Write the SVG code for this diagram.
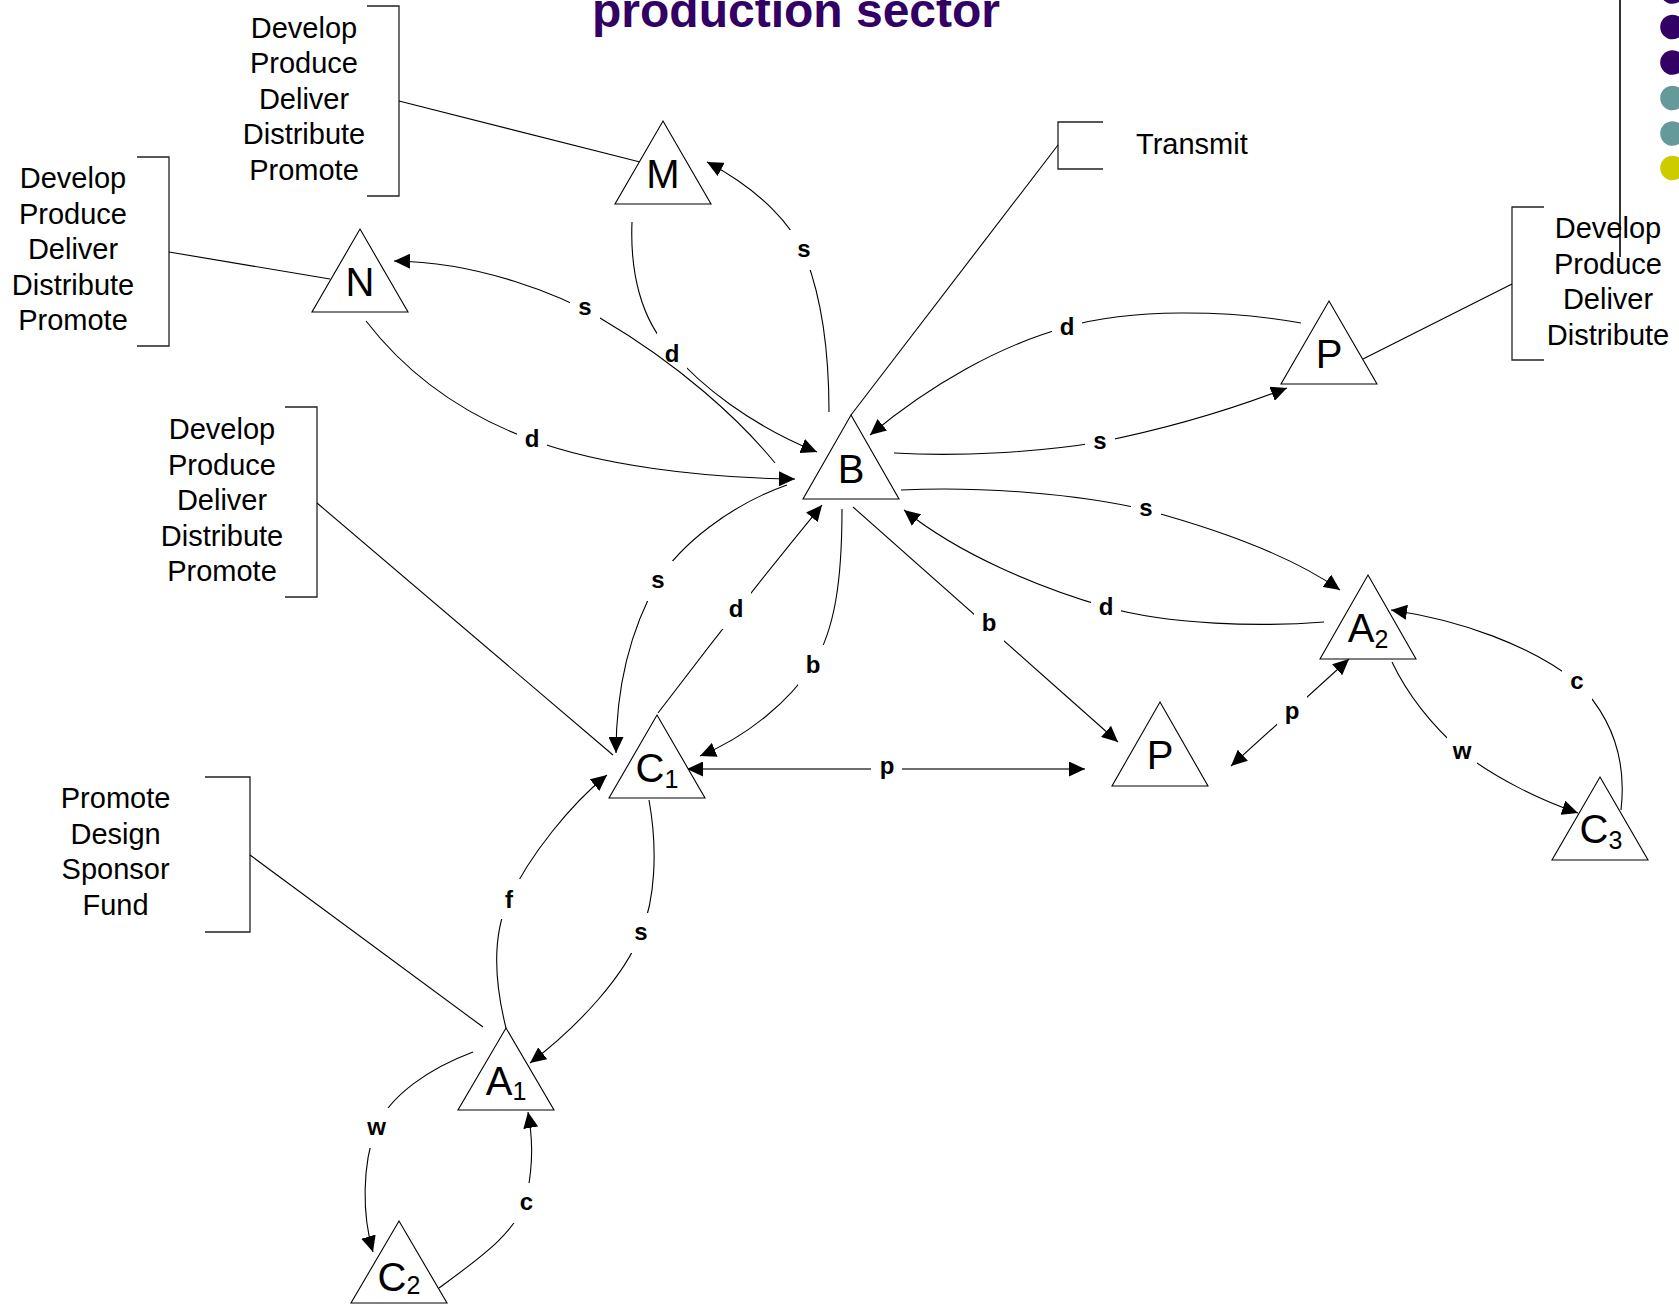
<svg xmlns="http://www.w3.org/2000/svg" width="1679" height="1305" viewBox="0 0 1679 1305">
  <style>
    .bg { fill: #ffffff; }
    .tri { fill: #ffffff; stroke: #000000; stroke-width: 1.1; stroke-linejoin: miter; }
    .node-label { font-family: "Liberation Sans", Arial, sans-serif; font-size: 40px; fill: #000000; text-anchor: middle; }
    .sub { font-size: 25px; }
    .bracket { fill: none; stroke: #222222; stroke-width: 1.3; }
    .leader { fill: none; stroke: #000000; stroke-width: 1.1; }
    .note { font-family: "Liberation Sans", Arial, sans-serif; font-size: 29px; fill: #000000; text-anchor: middle; }
    .edge { fill: none; stroke: #000000; stroke-width: 1.1; marker-end: url(#arrow); }
    .edge-p { fill: none; stroke: #6e6e6e; stroke-width: 2; marker-end: url(#arrow); marker-start: url(#arrow-start); }
    .lbl-bg { fill: #ffffff; }
    .lbl { font-family: "Liberation Sans", Arial, sans-serif; font-size: 24px; font-weight: bold; fill: #000000; text-anchor: middle; }
    .title { font-family: "Liberation Sans", Arial, sans-serif; font-size: 48px; font-weight: bold; fill: #330066; }
  </style>
  <defs>
    <marker id="arrow" markerUnits="userSpaceOnUse" viewBox="0 0 16 15" markerWidth="16" markerHeight="15" refX="16" refY="7.5" orient="auto">
      <path d="M0,0 L16,7.5 L0,15 Z" fill="#000000"/>
    </marker>
    <marker id="arrow-start" markerUnits="userSpaceOnUse" viewBox="0 0 16 15" markerWidth="16" markerHeight="15" refX="16" refY="7.5" orient="auto-start-reverse">
      <path d="M0,0 L16,7.5 L0,15 Z" fill="#000000"/>
    </marker>
  </defs>

  <rect class="bg" x="0" y="0" width="1679" height="1305"/>

  <!-- Title (partly above the top edge) -->
  <text class="title" x="592" y="27">production sector</text>

  <!-- Activity brackets with leader lines to their nodes -->
  <g id="note-M">
    <path class="bracket" d="M367,6 H399 V196 H367"/>
    <path class="leader" d="M399,101 L640,162"/>
    <text class="note" x="304" y="37.7">Develop</text>
    <text class="note" x="304" y="73.2">Produce</text>
    <text class="note" x="304" y="108.7">Deliver</text>
    <text class="note" x="304" y="144.2">Distribute</text>
    <text class="note" x="304" y="179.7">Promote</text>
  </g>
  <g id="note-N">
    <path class="bracket" d="M137,157 H169 V346 H137"/>
    <path class="leader" d="M169,252 L330,279"/>
    <text class="note" x="73" y="188.3">Develop</text>
    <text class="note" x="73" y="223.8">Produce</text>
    <text class="note" x="73" y="259.3">Deliver</text>
    <text class="note" x="73" y="294.8">Distribute</text>
    <text class="note" x="73" y="330.3">Promote</text>
  </g>
  <g id="note-C1">
    <path class="bracket" d="M285,407 H317 V597 H285"/>
    <path class="leader" d="M317,503 L613,755"/>
    <text class="note" x="222" y="439.3">Develop</text>
    <text class="note" x="222" y="474.8">Produce</text>
    <text class="note" x="222" y="510.3">Deliver</text>
    <text class="note" x="222" y="545.8">Distribute</text>
    <text class="note" x="222" y="581.3">Promote</text>
  </g>
  <g id="note-A1">
    <path class="bracket" d="M205,777 H250 V932 H205"/>
    <path class="leader" d="M250,855 L483,1027"/>
    <text class="note" x="115.6" y="808.3">Promote</text>
    <text class="note" x="115.6" y="843.8">Design</text>
    <text class="note" x="115.6" y="879.3">Sponsor</text>
    <text class="note" x="115.6" y="914.8">Fund</text>
  </g>
  <g id="note-P-top">
    <path class="bracket" d="M1544,207 H1512 V360 H1544"/>
    <path class="leader" d="M1512,284 L1363,359"/>
    <text class="note" x="1608" y="238.3">Develop</text>
    <text class="note" x="1608" y="273.8">Produce</text>
    <text class="note" x="1608" y="309.3">Deliver</text>
    <text class="note" x="1608" y="344.8">Distribute</text>
  </g>
  <g id="note-B">
    <path class="bracket" d="M1103,122 H1058 V169 H1103"/>
    <path class="leader" d="M1058,145 L851,415"/>
    <text class="note" x="1136" y="154.3" style="text-anchor:start">Transmit</text>
  </g>

  <!-- Flows between nodes -->
  <g id="connectors">
    <g id="e-B-M-s">
      <path class="edge" d="M829,412 C829,350 822,300 806,258 C793,225 760,190 707,162"/>
      <rect class="lbl-bg" x="789" y="230" width="30" height="40"/>
      <text class="lbl" x="804" y="257">s</text>
    </g>
    <g id="e-M-B-d">
      <path class="edge" d="M632,222 C630,270 640,320 672,352 C700,385 750,425 817,452"/>
      <rect class="lbl-bg" x="657" y="333" width="30" height="40"/>
      <text class="lbl" x="672" y="361.5">d</text>
    </g>
    <g id="e-B-N-s">
      <path class="edge" d="M775,463 C740,420 680,365 600,318 C560,295 480,262 394,261"/>
      <rect class="lbl-bg" x="570" y="288" width="30" height="40"/>
      <text class="lbl" x="585" y="315">s</text>
    </g>
    <g id="e-N-B-d">
      <path class="edge" d="M366,321 C400,365 450,410 532,440 C600,465 700,478 795,479"/>
      <rect class="lbl-bg" x="517" y="419" width="30" height="40"/>
      <text class="lbl" x="532" y="446.7">d</text>
    </g>
    <g id="e-B-C1-s">
      <path class="edge" d="M787,485 C730,505 680,545 658,581 C630,630 616,690 616,753"/>
      <rect class="lbl-bg" x="643" y="561" width="30" height="40"/>
      <text class="lbl" x="658" y="588">s</text>
    </g>
    <g id="e-C1-B-d">
      <path class="edge" d="M658,713 Q740,605 822,505"/>
      <rect class="lbl-bg" x="721" y="589" width="30" height="40"/>
      <text class="lbl" x="736" y="617">d</text>
    </g>
    <g id="e-B-C1-b">
      <path class="edge" d="M842,509 C842,580 835,630 813,665 C790,700 750,735 700,756"/>
      <rect class="lbl-bg" x="798" y="645" width="30" height="40"/>
      <text class="lbl" x="813" y="673">b</text>
    </g>
    <g id="e-B-P-b">
      <path class="edge" d="M853,507 L1118,742"/>
      <rect class="lbl-bg" x="974" y="604" width="30" height="40"/>
      <text class="lbl" x="989" y="631">b</text>
    </g>
    <g id="e-C1-P-p">
      <path class="edge-p" d="M687,769 L1085,769"/>
      <rect class="lbl-bg" x="871" y="752" width="31" height="36"/>
      <text class="lbl" x="887" y="774">p</text>
    </g>
    <g id="e-P-A2-p">
      <path class="edge" style="marker-start:url(#arrow-start)" d="M1231,766 L1349,659"/>
      <rect class="lbl-bg" x="1277" y="693" width="30" height="40"/>
      <text class="lbl" x="1292" y="719">p</text>
    </g>
    <g id="e-B-A2-s">
      <path class="edge" d="M901,490 C980,486 1080,494 1146,510 C1220,530 1290,555 1340,590"/>
      <rect class="lbl-bg" x="1131" y="489" width="30" height="40"/>
      <text class="lbl" x="1146" y="515.5">s</text>
    </g>
    <g id="e-A2-B-d">
      <path class="edge" d="M1324,622 C1260,627 1170,625 1106,607 C1040,588 960,555 904,510"/>
      <rect class="lbl-bg" x="1091" y="587" width="30" height="40"/>
      <text class="lbl" x="1106" y="615">d</text>
    </g>
    <g id="e-A2-C3-w">
      <path class="edge" d="M1392,662 C1410,700 1435,728 1462,752 C1495,778 1540,800 1578,813"/>
      <rect class="lbl-bg" x="1447" y="732" width="30" height="40"/>
      <text class="lbl" x="1462" y="759">w</text>
    </g>
    <g id="e-C3-A2-c">
      <path class="edge" d="M1621,810 C1628,750 1605,710 1577,682 C1530,645 1460,620 1391,610"/>
      <rect class="lbl-bg" x="1562" y="662" width="30" height="40"/>
      <text class="lbl" x="1577" y="688.5">c</text>
    </g>
    <g id="e-P-B-d">
      <path class="edge" d="M1301,323 C1230,310 1130,308 1067,327 C1000,345 930,385 870,435"/>
      <rect class="lbl-bg" x="1052" y="307" width="30" height="40"/>
      <text class="lbl" x="1067" y="334.5">d</text>
    </g>
    <g id="e-B-P-s">
      <path class="edge" d="M894,453 C960,457 1040,452 1100,442 C1170,428 1230,410 1287,388"/>
      <rect class="lbl-bg" x="1085" y="423" width="30" height="40"/>
      <text class="lbl" x="1100" y="449">s</text>
    </g>
    <g id="e-A1-C1-f">
      <path class="edge" d="M506,1028 C494,980 492,935 509,899 C530,855 570,805 607,775"/>
      <rect class="lbl-bg" x="494" y="879" width="30" height="40"/>
      <text class="lbl" x="509" y="907.5">f</text>
    </g>
    <g id="e-C1-A1-s">
      <path class="edge" d="M649,800 C658,850 655,900 641,933 C625,975 580,1025 530,1063"/>
      <rect class="lbl-bg" x="626" y="913" width="30" height="40"/>
      <text class="lbl" x="641" y="940">s</text>
    </g>
    <g id="e-A1-C2-w">
      <path class="edge" d="M473,1052 C430,1068 390,1095 376,1128 C362,1165 362,1215 373,1252"/>
      <rect class="lbl-bg" x="361" y="1108" width="30" height="40"/>
      <text class="lbl" x="376.5" y="1134.5">w</text>
    </g>
    <g id="e-C2-A1-c">
      <path class="edge" d="M439,1288 C480,1258 520,1230 527,1195 C534,1160 532,1135 528,1112"/>
      <rect class="lbl-bg" x="511" y="1183" width="30" height="40"/>
      <text class="lbl" x="526.5" y="1209.5">c</text>
    </g>
  </g>

  <!-- Actor nodes -->
  <g id="node-M">
    <polygon class="tri" points="663,121 711,204 615,204"/>
    <text class="node-label" x="663" y="188">M</text>
  </g>
  <g id="node-N">
    <polygon class="tri" points="360,229 408,312 312,312"/>
    <text class="node-label" x="360" y="296">N</text>
  </g>
  <g id="node-B">
    <polygon class="tri" points="851,415 899,499 803,499"/>
    <text class="node-label" x="851" y="483">B</text>
  </g>
  <g id="node-P-top">
    <polygon class="tri" points="1329,301 1377,384 1281,384"/>
    <text class="node-label" x="1329" y="368">P</text>
  </g>
  <g id="node-C1">
    <polygon class="tri" points="657,715 705,798 609,798"/>
    <text class="node-label" x="657" y="782">C<tspan class="sub" dy="6">1</tspan></text>
  </g>
  <g id="node-P-bottom">
    <polygon class="tri" points="1160,702 1208,786 1112,786"/>
    <text class="node-label" x="1160" y="769">P</text>
  </g>
  <g id="node-A2">
    <polygon class="tri" points="1368,575 1416,659 1320,659"/>
    <text class="node-label" x="1368" y="642">A<tspan class="sub" dy="6">2</tspan></text>
  </g>
  <g id="node-C3">
    <polygon class="tri" points="1600,777 1648,860 1552,860"/>
    <text class="node-label" x="1601" y="843">C<tspan class="sub" dy="6">3</tspan></text>
  </g>
  <g id="node-A1">
    <polygon class="tri" points="506,1028 554,1110 458,1110"/>
    <text class="node-label" x="506" y="1095">A<tspan class="sub" dy="5">1</tspan></text>
  </g>
  <g id="node-C2">
    <polygon class="tri" points="399,1221 447,1303 351,1303"/>
    <text class="node-label" x="399" y="1291">C<tspan class="sub" dy="3">2</tspan></text>
  </g>

  <!-- Slide-edge rule and bullet dots -->
  <line x1="1620" y1="0" x2="1620" y2="257" stroke="#000000" stroke-width="1.6"/>
  <g id="bullets">
    <circle cx="1672.5" cy="-8.5" r="12.3" fill="#330066"/>
    <circle cx="1672.5" cy="27" r="12.3" fill="#330066"/>
    <circle cx="1672.5" cy="62.5" r="12.3" fill="#330066"/>
    <circle cx="1672.5" cy="98" r="12.3" fill="#669999"/>
    <circle cx="1672.5" cy="133.5" r="12.3" fill="#669999"/>
    <circle cx="1672.5" cy="168" r="12.3" fill="#cccc00"/>
  </g>
</svg>
